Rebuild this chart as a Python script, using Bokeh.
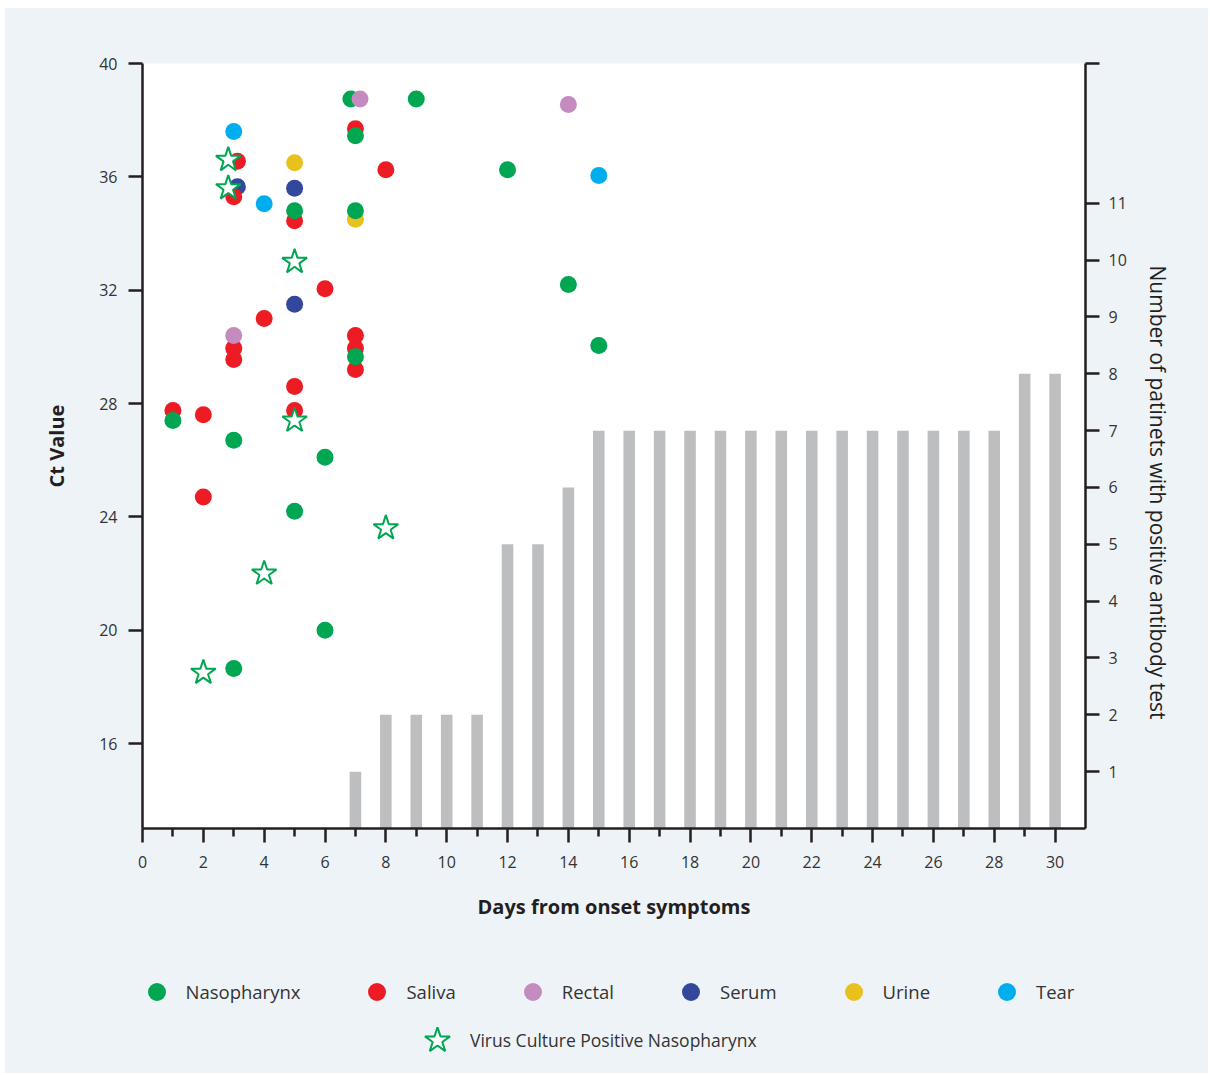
from bokeh.plotting import figure
from bokeh.layouts import column
from bokeh.models import Range1d, LinearAxis, FixedTicker, Legend, LegendItem, Title
from bokeh.embed import file_html
from bokeh.resources import INLINE

# ---- data ----
days = [7, 8, 9, 10, 11, 12, 13, 14, 15, 16, 17, 18, 19, 20, 21, 22, 23, 24, 25, 26, 27, 28, 29, 30]
patients = [1, 2, 2, 2, 2, 5, 5, 6, 7, 7, 7, 7, 7, 7, 7, 7, 7, 7, 7, 7, 7, 7, 8, 8]

naso_x = [1, 3, 3, 5, 5, 6, 6, 6.85, 7, 7, 7, 9, 12, 14, 15]
naso_y = [27.4, 26.7, 18.65, 34.8, 24.2, 26.1, 20.0, 38.75, 37.45, 34.8, 29.65, 38.75, 36.25, 32.2, 30.05]

saliva_x = [1, 2, 2, 3.12, 3, 3, 3, 4, 5, 5, 5, 6, 7, 7, 7, 7, 8]
saliva_y = [27.75, 27.6, 24.7, 36.55, 35.3, 29.95, 29.55, 31.0, 34.45, 28.6, 27.75, 32.05, 37.7, 30.4, 29.95, 29.2, 36.25]

rectal_x = [3, 7.15, 14]
rectal_y = [30.4, 38.75, 38.55]

serum_x = [3.12, 5, 5]
serum_y = [35.65, 35.6, 31.5]

urine_x = [5, 7]
urine_y = [36.5, 34.5]

tear_x = [3, 4, 15]
tear_y = [37.6, 35.05, 36.05]

culture_x = [2, 2.82, 2.82, 4, 5, 5, 8]
culture_y = [18.5, 36.6, 35.6, 22.0, 33.0, 27.4, 23.6]

ct_ticks = [16, 20, 24, 28, 32, 36, 40]
day_major = [0, 2, 4, 6, 8, 10, 12, 14, 16, 18, 20, 22, 24, 26, 28, 30]
day_minor = [1, 3, 5, 7, 9, 11, 13, 15, 17, 19, 21, 23, 25, 27, 29]
count_ticks = [1, 2, 3, 4, 5, 6, 7, 8, 9, 10, 11]
COUNT_TOP = 13.46

series_names = ["Nasopharynx", "Saliva", "Rectal", "Serum", "Urine", "Tear"]
culture_name = "Virus Culture Positive Nasopharynx"

GREEN = "#00a651"
RED = "#ed1c24"
PINK = "#c58bbf"
BLUE = "#33479d"
YELLOW = "#e9c11d"
CYAN = "#00aeef"
BAR = "#bcbec0"
INK = "#231f20"
TXT = "#333333"
BG = "#eef3f8"
FONT = "Open Sans"
W = 1203

series = [(naso_x, naso_y, GREEN), (saliva_x, saliva_y, RED), (rectal_x, rectal_y, PINK),
          (serum_x, serum_y, BLUE), (urine_x, urine_y, YELLOW), (tear_x, tear_y, CYAN)]

p = figure(width=W, height=942, output_backend="svg", toolbar_location=None,
           x_range=Range1d(0, 31), y_range=Range1d(13, 40),
           min_border_left=137, min_border_right=123, min_border_top=55, min_border_bottom=122,
           background_fill_color="white", border_fill_color=BG)
p.grid.visible = False
p.outline_line_color = None
p.extra_y_ranges = {"count": Range1d(0, COUNT_TOP)}

# bars (right axis)
p.vbar(x=days, top=patients, width=0.38, bottom=0, y_range_name="count",
       fill_color=BAR, line_color=None)

# scatter series (drawing order)
p.scatter(urine_x, urine_y, size=17, fill_color=YELLOW, line_color=None)
p.scatter(serum_x, serum_y, size=17, fill_color=BLUE, line_color=None)
p.scatter(saliva_x, saliva_y, size=17, fill_color=RED, line_color=None)
p.scatter(naso_x, naso_y, size=17, fill_color=GREEN, line_color=None)
p.scatter(rectal_x, rectal_y, size=17, fill_color=PINK, line_color=None)
p.scatter(tear_x, tear_y, size=17, fill_color=CYAN, line_color=None)
p.scatter(culture_x, culture_y, marker="star", size=26, fill_color="white",
          line_color=GREEN, line_width=2)

# axes
def style_axis(ax):
    ax.axis_line_color = INK
    ax.axis_line_width = 2.5
    ax.major_tick_line_color = INK
    ax.major_tick_line_width = 2.5
    ax.minor_tick_line_color = INK
    ax.minor_tick_line_width = 2.5
    ax.major_tick_in = 0
    ax.major_tick_out = 14
    ax.minor_tick_in = 0
    ax.major_label_text_font = FONT
    ax.major_label_text_font_size = "16px"
    ax.major_label_text_color = TXT
    ax.major_label_standoff = 9
    ax.axis_label_text_font = FONT
    ax.axis_label_text_font_size = "20px"
    ax.axis_label_text_font_style = "bold"
    ax.axis_label_text_color = INK

xa = p.xaxis[0]
style_axis(xa)
xa.ticker = FixedTicker(ticks=day_major, minor_ticks=day_minor)
xa.minor_tick_out = 8
xa.major_label_standoff = 13
xa.axis_label = "Days from onset symptoms"
xa.axis_label_standoff = 22

ya = p.yaxis[0]
style_axis(ya)
ya.ticker = FixedTicker(ticks=ct_ticks, minor_ticks=[])
ya.minor_tick_out = 0
ya.major_label_standoff = 11
ya.axis_label = "Ct Value"
ya.axis_label_standoff = 26

ra = LinearAxis(y_range_name="count", ticker=FixedTicker(ticks=count_ticks + [COUNT_TOP], minor_ticks=[]))
style_axis(ra)
ra.minor_tick_out = 0
ra.major_label_overrides = {COUNT_TOP: ""}
p.add_layout(ra, "right")

p.add_layout(Title(text="Number of patinets with positive antibody test", align="left", offset=202,
                   standoff=28, text_font=FONT, text_font_size="21px", text_font_style="normal",
                   text_color=INK), "right")

# ---- legend strip (separate figure below the chart; its frame aligns with the chart frame) ----
lg = figure(width=W, height=123, output_backend="svg", toolbar_location=None,
            x_range=Range1d(100, 101), y_range=Range1d(100, 101),
            x_axis_location=None, y_axis_location=None,
            min_border_left=137, min_border_right=123, min_border_top=0, min_border_bottom=0,
            background_fill_color=BG, border_fill_color=BG)
lg.grid.visible = False
lg.outline_line_color = None

items = []
for name, (sx, sy, col) in zip(series_names, series):
    r = lg.scatter(sx, sy, size=17, fill_color=col, line_color=None)
    items.append(LegendItem(label=name, renderers=[r]))
r_star = lg.scatter(culture_x, culture_y, marker="star", size=26, fill_color="white",
                    line_color=GREEN, line_width=2)

common = dict(orientation="horizontal", padding=0, margin=0, border_line_alpha=0,
              background_fill_alpha=0, label_text_font=FONT, label_text_color=TXT)
leg1 = Legend(items=items, location=(-8.5, 59.5), glyph_width=45, glyph_height=45,
              label_standoff=7, spacing=54, label_text_font_size="18.5px", **common)
leg2 = Legend(items=[LegendItem(label=culture_name, renderers=[r_star])],
              location=(262, 0), glyph_width=66, glyph_height=66, label_standoff=0,
              spacing=0, label_text_font_size="17.5px", **common)
lg.add_layout(leg1)
lg.add_layout(leg2)

layout = column(p, lg, spacing=0, margin=(8, 0, 0, 5), styles={"background-color": BG})
open("out.html", "w").write(file_html(layout, INLINE))
